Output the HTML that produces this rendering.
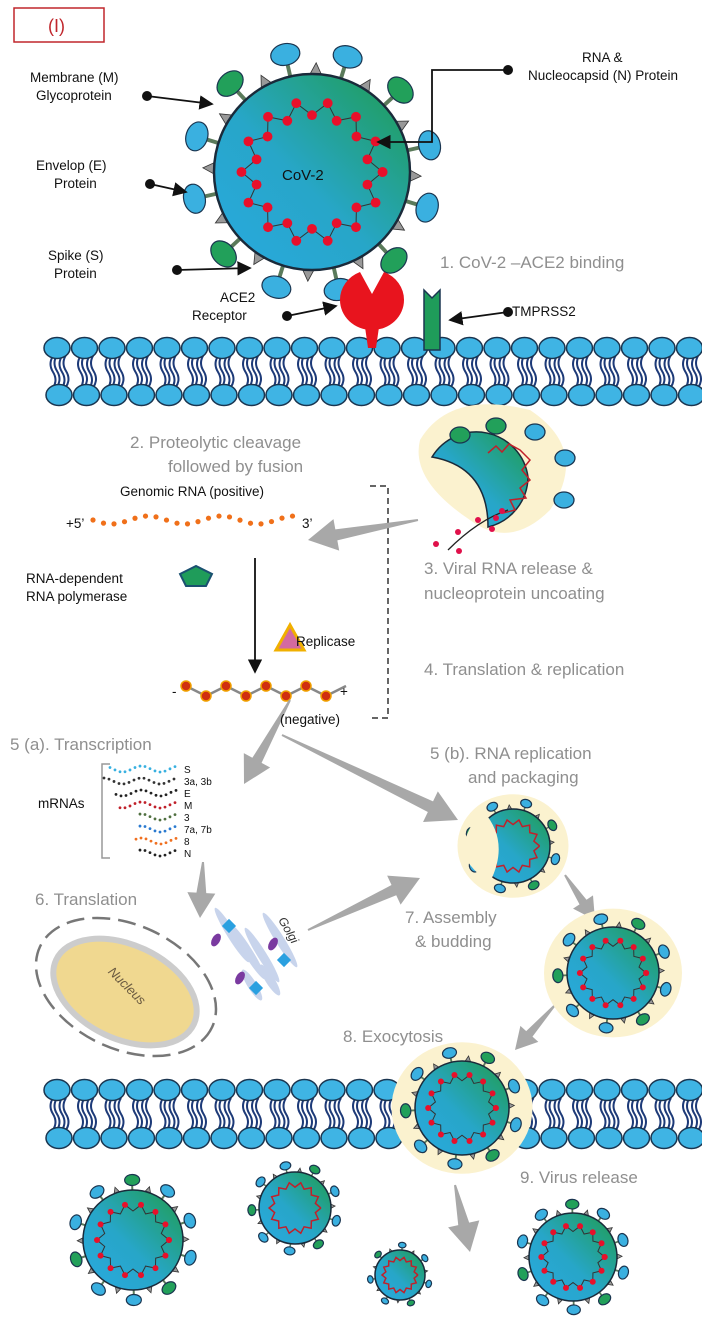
<!DOCTYPE html>
<html><head><meta charset="utf-8"><style>
html,body{margin:0;padding:0;background:#fff;}
svg{display:block;font-family:"Liberation Sans",Arial,sans-serif;}
.g{fill:#8f8f8f;font-size:17px;}
.k{fill:#111;font-size:13.5px;}
</style></head><body>
<svg id="s" width="702" height="1317" viewBox="0 0 702 1317" xmlns="http://www.w3.org/2000/svg">
<defs>
<linearGradient id="vg" x1="0" y1="1" x2="1" y2="0"><stop offset="0" stop-color="#29a9e0"/><stop offset="0.45" stop-color="#27a6c8"/><stop offset="1" stop-color="#1f9c4e"/></linearGradient>
<marker id="ah" markerWidth="8" markerHeight="8" refX="7" refY="4" orient="auto"><path d="M0,0 L8,4 L0,8 z" fill="#111"/></marker>
</defs>
<g id="bg"></g>
<rect x="14" y="8" width="90" height="34" fill="none" stroke="#c0262c" stroke-width="1.5"/>
<text x="48" y="32" fill="#c0262c" font-size="18">(I)</text>
<g id="fg"></g>
<text class="k" x="30" y="82">Membrane (M)</text>
<text class="k" x="36" y="100">Glycoprotein</text>
<text class="k" x="582" y="62">RNA &amp;</text>
<text class="k" x="528" y="80">Nucleocapsid (N) Protein</text>
<text class="k" x="36" y="170">Envelop (E)</text>
<text class="k" x="54" y="188">Protein</text>
<text class="k" x="48" y="260">Spike (S)</text>
<text class="k" x="54" y="278">Protein</text>
<text class="k" x="220" y="302">ACE2</text>
<text class="k" x="192" y="320">Receptor</text>
<text class="k" x="512" y="316">TMPRSS2</text>
<text class="g" x="440" y="268">1. CoV-2 –ACE2 binding</text>
<text class="g" x="130" y="448">2. Proteolytic cleavage</text>
<text class="g" x="168" y="472">followed by fusion</text>
<text class="k" x="120" y="496">Genomic RNA (positive)</text>
<text class="k" x="66" y="528">+5’</text>
<text class="k" x="302" y="528">3’</text>
<text class="g" x="424" y="574">3. Viral RNA release &amp;</text>
<text class="g" x="424" y="599">nucleoprotein uncoating</text>
<text class="k" x="26" y="583">RNA-dependent</text>
<text class="k" x="26" y="601">RNA polymerase</text>
<text class="k" x="296" y="646">Replicase</text>
<text class="g" x="424" y="675">4. Translation &amp; replication</text>
<text class="k" x="172" y="696">-</text>
<text class="k" x="340" y="696">+</text>
<text class="k" x="280" y="724">(negative)</text>
<text class="g" x="10" y="750">5 (a). Transcription</text>
<text class="g" x="430" y="759">5 (b). RNA replication</text>
<text class="g" x="468" y="783">and packaging</text>
<text class="k" x="38" y="808">mRNAs</text>
<g font-size="10" fill="#111"><text x="184" y="773">S</text><text x="184" y="785">3a, 3b</text><text x="184" y="797">E</text><text x="184" y="809">M</text><text x="184" y="821">3</text><text x="184" y="833">7a, 7b</text><text x="184" y="845">8</text><text x="184" y="857">N</text></g>
<text class="g" x="35" y="905">6. Translation</text>
<text class="g" x="405" y="923">7. Assembly</text>
<text class="g" x="415" y="947">&amp; budding</text>
<text class="g" x="343" y="1042">8. Exocytosis</text>
<text class="g" x="520" y="1183">9. Virus release</text>
<text x="100" y="990" fill="#6a5a40" font-size="13" font-style="italic" transform="rotate(45 125 990)">Nucleus</text>
<text x="278" y="920" fill="#333" font-size="12" font-style="italic" transform="rotate(60 278 920)">Golgi</text>
</svg>
<script>
var NS="http://www.w3.org/2000/svg",bg=document.getElementById('bg'),fg=document.getElementById('fg');
function el(p,t,a){var e=document.createElementNS(NS,t);for(var k in a)e.setAttribute(k,a[k]);p.appendChild(e);return e;}
function membrane(y1,y2,x0,x1){for(var x=x0;x<x1;x+=27.5){
 for(var j=0;j<2;j++){var xx=x+j*9-4;el(bg,'path',{d:'M'+xx+','+(y1+8)+' q-5,8 0,16 q5,8 0,16',fill:'none',stroke:'#1d3a78','stroke-width':2});
 el(bg,'path',{d:'M'+(xx+4)+','+(y2-8)+' q5,-8 0,-16 q-5,-8 0,-16',fill:'none',stroke:'#1d3a78','stroke-width':2});}
 el(bg,'ellipse',{cx:x,cy:y1,rx:13,ry:10.5,fill:'#3fb4e4',stroke:'#1a3550','stroke-width':1.5});
 el(bg,'ellipse',{cx:x+2,cy:y2,rx:13,ry:10.5,fill:'#3fb4e4',stroke:'#1a3550','stroke-width':1.5});}}
membrane(348,395,57,700);membrane(1090,1138,57,700);
function virus(cx,cy,r,n,halo,grad,sp){
 sp=sp||1.15;var g=el(fg,'g',{});
 if(halo)el(g,'ellipse',{cx:cx,cy:cy,rx:r*1.5,ry:r*1.4,fill:'#fbf2cf'});
 for(var i=0;i<n;i++){var a=i/n*2*Math.PI+0.3,c=Math.cos(a),s=Math.sin(a);
  if(i%2==0){var hx=cx+c*r*sp,hy=cy+s*r*sp;el(g,'line',{x1:cx+c*r,y1:cy+s*r,x2:hx,y2:hy,stroke:'#5a7a5a','stroke-width':Math.max(1.5,r*0.04)});
   el(g,'ellipse',{cx:hx+c*r*0.05,cy:hy+s*r*0.05,rx:r*0.15,ry:r*0.11,fill:(i%6==2?'#22a05a':'#3ab0e0'),stroke:'#1a3550','stroke-width':1.2,transform:'rotate('+(a*180/Math.PI+90)+' '+(hx+c*r*0.05)+' '+(hy+s*r*0.05)+')'});}
  else{var tx=cx+c*r*1.06,ty=cy+s*r*1.06,w=r*0.055;el(g,'polygon',{points:(tx+c*w)+','+(ty+s*w)+' '+(tx-s*w-c*w)+','+(ty+c*w-s*w)+' '+(tx+s*w-c*w)+','+(ty-c*w-s*w),fill:'#999',stroke:'#333','stroke-width':0.8});}}
 el(g,'circle',{cx:cx,cy:cy,r:r,fill:grad,stroke:'#1a2a3a','stroke-width':Math.max(1.5,r*0.025)});
 var pts=[],m=28;for(var i=0;i<=m;i++){var a=i/m*2*Math.PI,rr=r*(i%2?0.58:0.72);pts.push([cx+Math.cos(a)*rr,cy+Math.sin(a)*rr]);}
 el(g,'polyline',{points:pts.map(function(p){return p.join(',')}).join(' '),fill:'none',stroke:(r>40?'#333':'#c0202a'),'stroke-width':(r>40?1:1.5)});
 if(r>40)pts.forEach(function(p,i){if(i%2==0||r>60)el(g,'circle',{cx:p[0],cy:p[1],r:Math.max(3,r*0.05),fill:'#e8102a'});});
 return g;}
virus(312,172,98,24,false,'url(#vg)',1.18);
el(fg,'text',{x:282,y:180,'font-size':15,fill:'#111'}).textContent='CoV-2';
el(fg,'path',{d:'M340,300 a32,30 0 0,0 64,0 a32,30 0 0,0 -20,-28 l-12,22 l-12,-22 a32,30 0 0,0 -20,28z',fill:'#e8141e'});
el(fg,'path',{d:'M364,320 h16 l-4,28 h-8z',fill:'#e8141e'});
el(fg,'path',{d:'M424,290 l8,8 l8,-8 v60 h-16 z',fill:'#1f9c5a',stroke:'#1a3550','stroke-width':1.5});
function ptr(x1,y1,x2,y2,pts){el(fg,'circle',{cx:x1,cy:y1,r:5,fill:'#111'});el(fg,'polyline',{points:pts||(x1+','+y1+' '+x2+','+y2),fill:'none',stroke:'#111','stroke-width':1.8,'marker-end':'url(#ah)'});}
ptr(147,96,212,104);ptr(508,70,0,0,'508,70 432,70 432,142 378,142');ptr(150,184,186,192);ptr(177,270,250,268);ptr(287,316,336,306);ptr(508,312,450,320);
el(fg,'path',{d:'M420,440 q30,-50 110,-30 q60,40 20,100 q-40,40 -80,10 q-60,-40 -50,-80z',fill:'#fbf2cf'});
el(fg,'path',{d:'M432,457 a52,52 0 0,1 96,20 a52,52 0 0,1 -40,50 q0,-60 -56,-70z',fill:'url(#vg)',stroke:'#1a2a3a','stroke-width':1.5});
[[460,435,'#22a05a'],[496,426,'#22a05a'],[535,432,'#3ab0e0'],[565,458,'#3ab0e0'],[564,500,'#3ab0e0']].forEach(function(p){el(fg,'ellipse',{cx:p[0],cy:p[1],rx:10,ry:8,fill:p[2],stroke:'#1a3550','stroke-width':1.3});});
el(fg,'polyline',{points:'488,453 496,446 502,452 509,444 520,450 530,460 522,470 530,480 520,488 526,498 510,500 515,510 503,513',fill:'none',stroke:'#c0202a','stroke-width':1.5});
el(fg,'path',{d:'M448,550 q30,-30 60,-40',fill:'none',stroke:'#222','stroke-width':1.3});
[[436,544],[458,532],[478,520],[492,529],[496,518],[459,551],[502,511]].forEach(function(p){el(fg,'circle',{cx:p[0],cy:p[1],r:3,fill:'#e0104a'});});
for(var i=0;i<20;i++){el(fg,'circle',{cx:93+i*10.5,cy:520+Math.sin(i*0.9)*4,r:2.6,fill:'#f0701a'});}
el(fg,'polygon',{points:'180,574 196,566 212,574 206,586 186,586',fill:'#1f9c5a',stroke:'#1a5070','stroke-width':2});
el(fg,'polygon',{points:'290,625 276,650 304,650',fill:'#d46aa0',stroke:'#f0b000','stroke-width':3});
el(fg,'line',{x1:255,y1:558,x2:255,y2:672,stroke:'#111','stroke-width':1.8,'marker-end':'url(#ah)'});
for(var i=0;i<8;i++){el(fg,'line',{x1:186+i*20,y1:690+(i%2?6:-4),x2:206+i*20,y2:690+(i%2?-4:6),stroke:'#888','stroke-width':2.5});el(fg,'circle',{cx:186+i*20,cy:690+(i%2?6:-4),r:5,fill:'#d03010',stroke:'#f0a000','stroke-width':1.5});}
el(fg,'polyline',{points:'370,486 388,486 388,718 370,718',fill:'none',stroke:'#333','stroke-width':1.5,'stroke-dasharray':'6,4'});
el(fg,'polyline',{points:'110,764 102,764 102,858 110,858',fill:'none',stroke:'#999','stroke-width':1.5});
var cols=['#38b0e0','#333','#222','#c0202a','#507040','#2a7ad0','#f07020','#222'],st=[110,104,116,120,140,140,136,140];
cols.forEach(function(c,j){for(var x=st[j];x<178;x+=5)el(fg,'circle',{cx:x,cy:769+j*12+Math.sin(x/6)*3,r:1.4,fill:c});});
function garr(x1,y1,x2,y2,w){var dx=x2-x1,dy=y2-y1,L=Math.hypot(dx,dy),ux=dx/L,uy=dy/L,px=-uy,py=ux,hl=w*1.8,bx=x2-ux*hl,by=y2-uy*hl;
 el(fg,'polygon',{points:[x1+px*1,y1+py*1,bx+px*w*0.35,by+py*w*0.35,bx+px*w,by+py*w,x2,y2,bx-px*w,by-py*w,bx-px*w*0.35,by-py*w*0.35,x1-px*1,y1-py*1].join(' '),fill:'#a8a8a8'});}
garr(418,520,308,540,16);garr(290,700,244,784,15);garr(282,735,458,820,17);garr(203,862,200,918,14);garr(308,930,420,878,16);garr(565,875,595,920,12);garr(555,1005,515,1050,12);garr(455,1185,470,1252,16);
el(fg,'ellipse',{cx:126,cy:987,rx:95,ry:62,fill:'none',stroke:'#777','stroke-width':2.5,'stroke-dasharray':'18,8',transform:'rotate(25 126 987)'});
el(fg,'ellipse',{cx:125,cy:992,rx:76,ry:47,fill:'#f0d890',stroke:'#ccc','stroke-width':6,transform:'rotate(25 125 992)'});
[[232,935],[248,952],[262,955],[280,940],[252,985],[270,980]].forEach(function(p,i){el(fg,'ellipse',{cx:p[0],cy:p[1],rx:(i>3?18:32),ry:4.5,fill:'#c8d4ec',transform:'rotate(58 '+p[0]+' '+p[1]+')'});});
[[229,926],[284,960],[256,988]].forEach(function(p){el(fg,'rect',{x:p[0]-5,y:p[1]-5,width:10,height:10,fill:'#2aa0e0',transform:'rotate(45 '+p[0]+' '+p[1]+')'});});
[[216,940],[240,978],[273,944]].forEach(function(p){el(fg,'ellipse',{cx:p[0],cy:p[1],rx:4,ry:7,fill:'#7a3aa0',transform:'rotate(30 '+p[0]+' '+p[1]+')'});});
virus(513,846,37,16,true,'url(#vg)');
el(fg,'path',{d:'M484,812 q26,30 6,70 q-18,-10 -28,-30 q6,-30 22,-40z',fill:'#fbf2cf'});
virus(613,973,46,18,true,'url(#vg)');
virus(462,1108,47,18,true,'url(#vg)');
virus(133,1240,50,20,false,'url(#vg)');
virus(295,1208,36,18,false,'url(#vg)');
virus(573,1257,44,20,false,'url(#vg)');
virus(400,1275,25,14,false,'url(#vg)');
</script>
</body></html>
